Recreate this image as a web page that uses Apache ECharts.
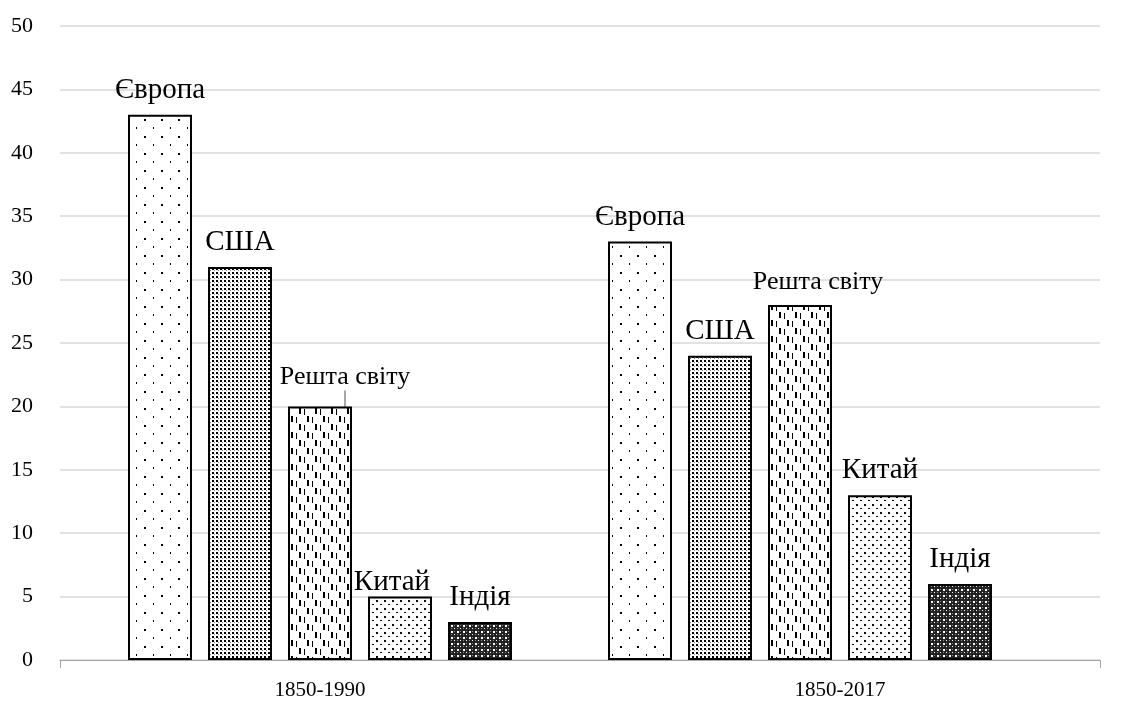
<!DOCTYPE html>
<html><head><meta charset="utf-8">
<script src="https://cdn.jsdelivr.net/npm/echarts@6/dist/echarts.min.js"></script>
<style>html,body{margin:0;padding:0;background:#fff}#c{width:1137px;height:706px}</style>
</head><body><div id="c"></div>
<script>
const categories = ['1850-1990', '1850-2017'];
const seriesNames = ['Європа', 'США', 'Решта світу', 'Китай', 'Індія'];
const europe = [43, 33];
const usa = [31, 24];
const rest = [20, 28];
const china = [5, 13];
const india = [3, 6];
const yTicks = { min: 0, max: 50, interval: 5 };

function makeCanvas(w, h, draw) {
  const c = document.createElement('canvas');
  c.width = w; c.height = h;
  const ctx = c.getContext('2d');
  ctx.fillStyle = '#fff'; ctx.fillRect(0, 0, w, h);
  ctx.fillStyle = '#000';
  draw(ctx);
  return { image: c, repeat: 'repeat' };
}
const patEurope = makeCanvas(17, 17, ctx => {
  ctx.fillRect(8, 0, 2, 2);
  ctx.fillRect(0, 8, 1, 2);
});
const patUsa = makeCanvas(4, 4, ctx => {
  ctx.fillRect(0, 0, 2, 2);
  ctx.fillStyle = '#777';
  ctx.fillRect(2, 2, 1, 1);
});
const patRest = makeCanvas(16, 16, ctx => {
  ctx.fillRect(3, 0, 2, 6);
  ctx.fillRect(11, 8, 2, 6);
  ctx.fillRect(8, 1, 1, 6);
  ctx.fillRect(0, 9, 1, 6);
});
const patChina = makeCanvas(8, 8, ctx => {
  ctx.fillRect(0, 0, 2, 2);
  ctx.fillRect(4, 4, 2, 1);
});
const patIndia = makeCanvas(6, 6, ctx => {
  ctx.fillStyle = '#222';
  ctx.fillRect(0, 0, 6, 6);
  ctx.fillStyle = '#fff';
  ctx.fillRect(1, 1, 2, 2);
  ctx.fillRect(4, 4, 1, 1);
  ctx.fillStyle = '#888';
  ctx.fillRect(4, 1, 1, 1);
  ctx.fillRect(1, 4, 1, 1);
});
const patterns = [patEurope, patUsa, patRest, patChina, patIndia];
const values = [europe, usa, rest, china, india];

const font = "'Liberation Serif', 'Times New Roman', serif";

const series = seriesNames.map((name, i) => ({
  name, type: 'bar',
  xAxisIndex: 1, yAxisIndex: 1,
  data: values[i].map((v, j) => ({ value: v, labelLine: { show: i === 2 && j === 0 } })),
  barWidth: 64,
  barGap: '25%',
  itemStyle: { color: patterns[i], borderColor: '#000', borderWidth: 2 },
  label: {
    show: true, position: 'top', formatter: '{a}', distance: 10,
    fontFamily: font, fontSize: i === 2 ? 26 : 29, color: '#000'
  },
  labelLine: { lineStyle: { color: '#a6a6a6', width: 2 } },
  labelLayout: function (p) {
    if (i === 2 && p.dataIndex === 0) return { dx: 25, dy: -6 };
    if (i === 2 && p.dataIndex === 1) return { dx: 18, dy: 0 };
    if (i === 3 && p.dataIndex === 0) return { dx: -8, dy: 10 };
    return {};
  }
}));

const chart = echarts.init(document.getElementById('c'));
chart.setOption({
  animation: false,
  grid: [
    { left: 60, right: 37, top: 26, bottom: 46, containLabel: false },
    { left: 80, right: 97, top: 26, bottom: 46, containLabel: false }
  ],
  xAxis: [{
    type: 'category', data: categories, gridIndex: 0,
    axisLine: { lineStyle: { color: '#a6a6a6', width: 1 } },
    axisTick: { show: true, length: 8, interval: (idx) => idx === 0, lineStyle: { color: '#a6a6a6' } },
    axisLabel: { fontFamily: font, fontSize: 21, color: '#000', margin: 20 }
  }, {
    type: 'category', data: categories, gridIndex: 1, show: false
  }],
  yAxis: [{
    type: 'value', gridIndex: 0, min: yTicks.min, max: yTicks.max, interval: yTicks.interval,
    axisLine: { show: false }, axisTick: { show: false },
    axisLabel: { fontFamily: font, fontSize: 22, color: '#000', margin: 27 },
    splitLine: { lineStyle: { color: '#d9d9d9', width: 1.5 } }
  }, {
    type: 'value', gridIndex: 1, min: yTicks.min, max: yTicks.max, interval: yTicks.interval,
    show: false, splitLine: { show: false }
  }],
  series
});
</script></body></html>
